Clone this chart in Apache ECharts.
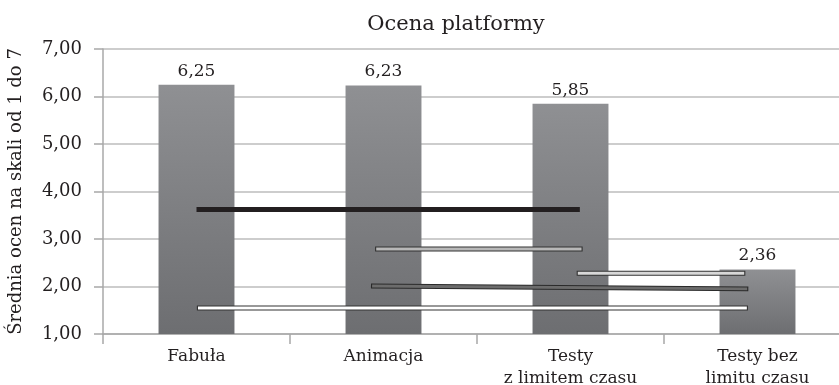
<!DOCTYPE html>
<html><head><meta charset="utf-8">
<script src="https://cdn.jsdelivr.net/npm/echarts@6/dist/echarts.min.js"></script>
<style>html,body{margin:0;padding:0;background:#fff}#c{width:839px;height:385px}</style>
</head><body><div id="c"></div>
<script>
const categories = ['Fabuła', 'Animacja', 'Testy\nz limitem czasu', 'Testy bez\nlimitu czasu'];
const values = [6.25, 6.23, 5.85, 2.36];
const yTicks = ['1,00','2,00','3,00','4,00','5,00','6,00','7,00'];
// overlay lines: [x in category units (0..4), y value]
const lineBlack = [[0.50, 3.62], [2.55, 3.62]];
const lineGray = [[1.455, 2.79], [2.565, 2.79]];
const lineLight = [[2.533, 2.28], [3.435, 2.28]];
const lineDark = [[1.433, 2.01], [3.451, 1.95]];
const lineWhite = [[0.502, 1.55], [3.449, 1.55]];

const FONT = 'DejaVu Serif';
const TXT = '#231f20';
const chart = echarts.init(document.getElementById('c'), null, {renderer: 'canvas'});

function shrink(d, dx) { return [[d[0][0] + dx, d[0][1]], [d[1][0] - dx, d[1][1]]]; }
function outlined(data, fill, edge, w) {
  return [
    {type: 'line', xAxisIndex: 1, data: data, symbol: 'none', silent: true, z: 5,
     lineStyle: {color: edge, width: w + 2, cap: 'butt'}},
    {type: 'line', xAxisIndex: 1, data: shrink(data, 0.006), symbol: 'none', silent: true, z: 6,
     lineStyle: {color: fill, width: w, cap: 'butt'}}
  ];
}

chart.setOption({
  animation: false,
  title: {text: 'Ocena platformy', left: 451, top: 9, textAlign: 'center',
    textStyle: {fontFamily: FONT, fontWeight: 'normal', fontSize: 21, color: TXT}},
  grid: {left: 103, width: 748, top: 49, height: 285, containLabel: false, outerBoundsMode: 'none'},
  xAxis: [
    {type: 'category', data: categories,
     axisLine: {lineStyle: {color: '#a8a8a8', width: 1.5}},
     axisTick: {show: true, length: 10, lineStyle: {color: '#a8a8a8', width: 1.5}},
     axisLabel: {fontFamily: FONT, fontSize: 17, color: TXT, margin: 12, lineHeight: 22, interval: 0}},
    {type: 'value', min: 0, max: 4, show: false}
  ],
  yAxis: {type: 'value', min: 1, max: 7, interval: 1,
    name: 'Średnia ocen na skali od 1 do 7', nameLocation: 'middle', nameGap: 78,
    nameTextStyle: {fontFamily: FONT, fontSize: 18, color: TXT},
    axisLine: {show: true, lineStyle: {color: '#a8a8a8', width: 1.5}},
    axisTick: {show: true, length: 9, lineStyle: {color: '#a8a8a8', width: 1.5}},
    splitLine: {lineStyle: {color: '#bdbdbd', width: 1.5}},
    axisLabel: {fontFamily: FONT, fontSize: 18, color: TXT, margin: 21,
      formatter: v => yTicks[Math.round(v) - 1]}},
  series: [
    {type: 'bar', data: values, barWidth: '40.6%', z: 2,
     itemStyle: {color: new echarts.graphic.LinearGradient(0, 0, 0, 1,
       [{offset: 0, color: '#8f9093'}, {offset: 1, color: '#6d6e71'}])},
     label: {show: true, position: 'top', distance: 5, fontFamily: FONT, fontSize: 17, color: TXT,
       formatter: p => p.value.toFixed(2).replace('.', ',')}},
    {type: 'line', xAxisIndex: 1, data: lineBlack, symbol: 'none', silent: true, z: 5,
     lineStyle: {color: '#231f20', width: 5, cap: 'butt'}},
    ...outlined(lineGray, '#b8b8b8', '#333333', 3),
    ...outlined(lineLight, '#d8d8d8', '#333333', 3),
    ...outlined(lineDark, '#6c6c6c', '#2a2a2a', 3),
    ...outlined(lineWhite, '#ffffff', '#333333', 3)
  ]
});
</script></body></html>
